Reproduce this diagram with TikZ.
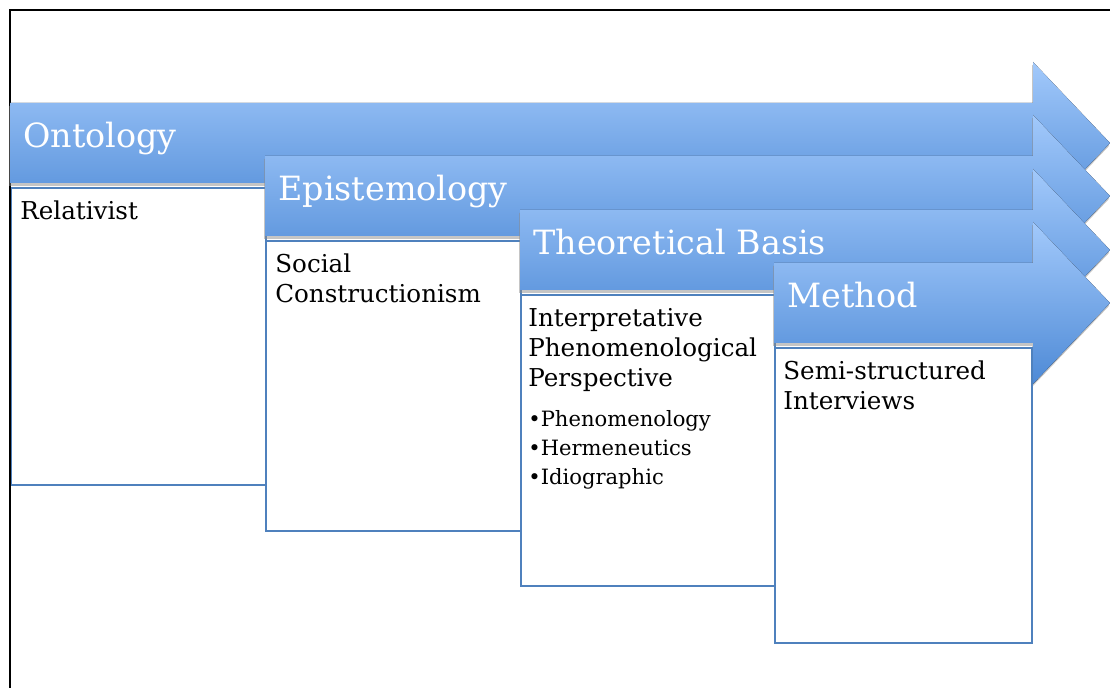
\documentclass[tikz,border=0pt]{standalone}
\usepackage{fontspec}
\setmainfont{DejaVu Serif}
\usetikzlibrary{shadows}

\definecolor{arrowtop}{RGB}{162,201,251}
\definecolor{arrowbot}{RGB}{78,138,214}
\definecolor{boxblue}{RGB}{79,129,189}

\tikzset{
    stagearrow/.style={top color=arrowtop, bottom color=arrowbot, draw=none,
        drop shadow={shadow xshift=-0.5pt, shadow yshift=-1.6pt, opacity=0.5, fill=black!45}},
    stagebox/.style={draw=boxblue, line width=1.1pt, fill=white, inner sep=0pt, anchor=north west},
    headtext/.style={text=white, font=\fontsize{19}{22}\selectfont, anchor=base west, inner sep=0pt},
    bodytext/.style={font=\fontsize{14}{16.8}\selectfont, anchor=base west, inner sep=0pt,
        text width=4.8cm, align=left},
    bullettext/.style={font=\fontsize{12}{16.4}\selectfont, anchor=base west, inner sep=0pt,
        text width=4.8cm, align=left},
    frameline/.style={draw=black, line width=1.2pt}
}

\begin{document}
\begin{tikzpicture}[x=0.02cm, y=-0.02cm]
    \clip (0,0) rectangle (1110,688);
    \fill[white] (0,0) rectangle (1110,688);
    \draw[frameline] (10,10) rectangle (1130,710);

    \fill[stagearrow] (10,103) -- (1033,103) -- (1033,62) -- (1110,143) -- (1033,224) -- (1033,183) -- (10,183) -- cycle;
    \node[headtext] (ontology) at (23,148) {Ontology};
    \node[stagebox, minimum width=5.1cm, minimum height=5.94cm] (ontobox) at (10,187) {};
    \node[bodytext] (relativist) at (20,220) {Relativist};

    \fill[stagearrow] (265,156) -- (1033,156) -- (1033,115) -- (1110,196) -- (1033,277) -- (1033,236) -- (265,236) -- cycle;
    \node[headtext] (epistemology) at (278,201) {Epistemology};
    \node[stagebox, minimum width=5.1cm, minimum height=5.8cm] (epistbox) at (265,240) {};
    \node[bodytext] (constructionism) at (275,273) {Social\\Constructionism};

    \fill[stagearrow] (520,210) -- (1033,210) -- (1033,169) -- (1110,250) -- (1033,331) -- (1033,290) -- (520,290) -- cycle;
    \node[headtext] (theory) at (533,255) {Theoretical Basis};
    \node[stagebox, minimum width=5.08cm, minimum height=5.82cm] (theorybox) at (520,294) {};
    \node[bodytext] (ipa) at (528,327) {Interpretative\\Phenomenological\\Perspective};
    \node[bullettext] (ipapoints) at (528,427) {\textbullet Phenomenology\\\textbullet Hermeneutics\\\textbullet Idiographic};

    \fill[stagearrow] (774,263) -- (1033,263) -- (1033,222) -- (1110,303) -- (1033,384) -- (1033,343) -- (774,343) -- cycle;
    \node[headtext] (method) at (787,308) {Method};
    \node[stagebox, minimum width=5.14cm, minimum height=5.9cm] (methodbox) at (774,347) {};
    \node[bodytext] (interviews) at (783,380) {Semi-structured\\Interviews};

    \draw[frameline] (ontobox.north west) -- (10,688);
\end{tikzpicture}
\end{document}
